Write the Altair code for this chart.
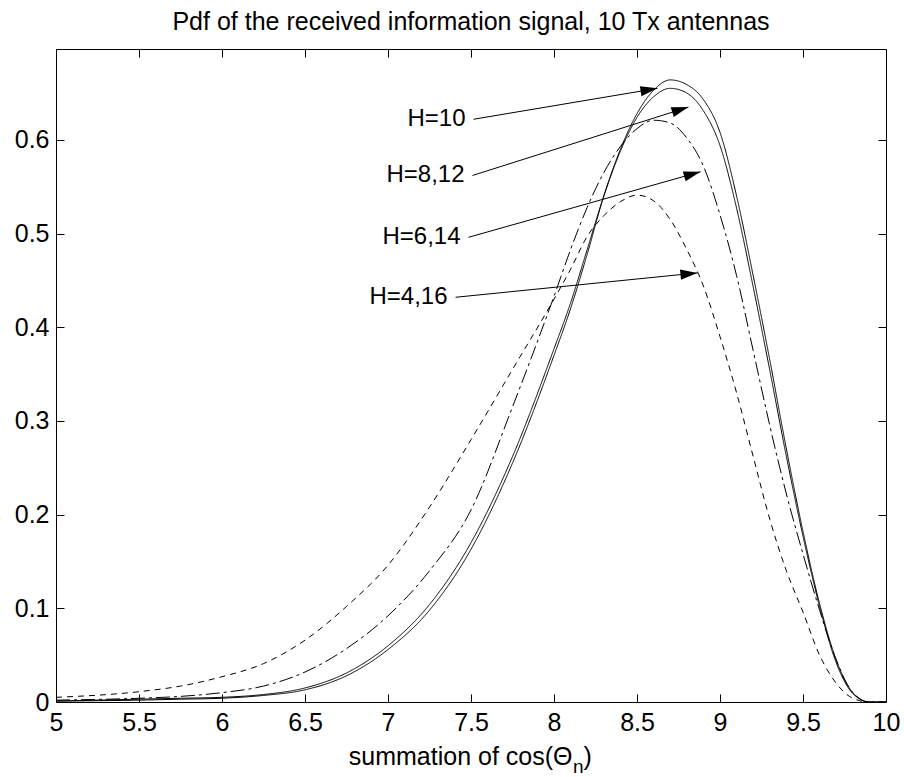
import altair as alt
import pandas as pd
import numpy as np

# ---------------- data ----------------
x_vals = [5.0, 5.5, 5.75, 6.0, 6.25, 6.5, 6.75, 7.0, 7.25, 7.5, 7.75, 8.0,
          8.1, 8.2, 8.3, 8.4, 8.5, 8.6, 8.7, 8.8, 8.9, 9.0, 9.1, 9.2, 9.3,
          9.4, 9.5, 9.6, 9.7, 9.8, 9.9, 10.0]

h10 = [0.001, 0.002, 0.003, 0.004, 0.007, 0.013, 0.028, 0.056, 0.098, 0.163,
       0.255, 0.370, 0.420, 0.478, 0.540, 0.590, 0.628, 0.653, 0.664, 0.659,
       0.643, 0.608, 0.540, 0.455, 0.365, 0.270, 0.182, 0.105, 0.045, 0.010,
       0.0, 0.0]
h8_12 = [0.001, 0.003, 0.004, 0.005, 0.008, 0.015, 0.031, 0.060, 0.104, 0.170,
         0.262, 0.377, 0.426, 0.483, 0.540, 0.588, 0.624, 0.646, 0.655, 0.650,
         0.631, 0.594, 0.527, 0.443, 0.354, 0.262, 0.177, 0.102, 0.042, 0.009,
         0.0, 0.0]
h6_14 = [0.002, 0.004, 0.006, 0.010, 0.017, 0.032, 0.057, 0.092, 0.140, 0.205,
         0.315, 0.433, 0.483, 0.528, 0.565, 0.593, 0.612, 0.621, 0.618, 0.602,
         0.572, 0.520, 0.455, 0.375, 0.295, 0.222, 0.158, 0.098, 0.045, 0.010,
         0.0, 0.0]
h4_16 = [0.005, 0.011, 0.017, 0.027, 0.041, 0.066, 0.102, 0.146, 0.208, 0.280,
         0.355, 0.430, 0.462, 0.497, 0.519, 0.534, 0.541, 0.535, 0.515, 0.483,
         0.444, 0.390, 0.330, 0.262, 0.195, 0.140, 0.096, 0.050, 0.020, 0.004,
         0.0, 0.0]

series_names = ["H=10", "H=8,12", "H=6,14", "H=4,16"]
series_values = [h10, h8_12, h6_14, h4_16]

# annotation labels and arrows (start -> tip), in data units
ann_labels = ["H=10", "H=8,12", "H=6,14", "H=4,16"]
ann_x0 = [7.515, 7.509, 7.485, 7.407]
ann_y0 = [0.622, 0.562, 0.496, 0.432]
ann_x1 = [8.623, 8.810, 8.883, 8.864]
ann_y1 = [0.655, 0.635, 0.566, 0.458]

x_ticks = [5, 5.5, 6, 6.5, 7, 7.5, 8, 8.5, 9, 9.5, 10]
y_ticks = [0, 0.1, 0.2, 0.3, 0.4, 0.5, 0.6]

title_text = "Pdf of the received information signal, 10 Tx antennas"
xlabel_main = ["summation of cos(Θ"]
xlabel_sub = ["n"]
xlabel_end = [")"]

# ---------------- layout ----------------
W, H = 830, 653
XMIN, XMAX = 5.0, 10.0
YMIN, YMAX = 0.0, 0.697
FONT = "Liberation Sans"

rows = []
for name, vals in zip(series_names, series_values):
    for xv, yv in zip(x_vals, vals):
        rows.append({"x": xv, "y": yv, "series": name})
curves = pd.DataFrame(rows)

arrows = pd.DataFrame({
    "label": ann_labels, "x0": ann_x0, "y0": ann_y0, "x1": ann_x1, "y1": ann_y1,
})
dxp = (arrows["x1"] - arrows["x0"]) * W / (XMAX - XMIN)
dyp = -(arrows["y1"] - arrows["y0"]) * H / (YMAX - YMIN)
arrows["angle"] = np.degrees(np.arctan2(dyp, dxp)) % 360

xs = alt.Scale(domain=[XMIN, XMAX], nice=False, zero=False)
ys = alt.Scale(domain=[YMIN, YMAX], nice=False, zero=False)

common_axis = dict(domain=False, tickSize=8, offset=-8, tickColor="black",
                   tickWidth=1, labelColor="black", labelFont=FONT,
                   labelFontSize=25, grid=False, title=None,
                   labelFlush=False, labelOverlap=False)

x_bottom = alt.Axis(orient="bottom", values=x_ticks, format="~g",
                    labelPadding=8, **common_axis)
y_left = alt.Axis(orient="left", values=y_ticks, format="~g",
                  labelPadding=7, **common_axis)
x_top = alt.Axis(orient="top", values=x_ticks, labels=False, **common_axis)
y_right = alt.Axis(orient="right", values=y_ticks, labels=False, **common_axis)

lines = alt.Chart(curves).mark_line(
    interpolate="monotone", strokeWidth=1, color="black"
).encode(
    x=alt.X("x:Q", scale=xs, axis=x_bottom),
    y=alt.Y("y:Q", scale=ys, axis=y_left),
    detail="series:N",
    strokeDash=alt.StrokeDash(
        "series:N",
        scale=alt.Scale(domain=series_names,
                        range=[[1, 0], [1, 0], [14, 4, 3, 4], [6, 5]]),
        legend=None,
    ),
)

shafts = alt.Chart(arrows).mark_rule(color="black", strokeWidth=1).encode(
    x=alt.X("x0:Q", scale=xs, axis=None),
    y=alt.Y("y0:Q", scale=ys, axis=None),
    x2="x1:Q",
    y2="y1:Q",
)

heads = alt.Chart(arrows).mark_point(
    shape="M0,0 L-2,-0.6 L-2,0.6 Z", filled=True, size=289,
    color="black", opacity=1, strokeWidth=0
).encode(
    x=alt.X("x1:Q", scale=xs, axis=x_top),
    y=alt.Y("y1:Q", scale=ys, axis=y_right),
    angle=alt.Angle("angle:Q", scale=None),
)

labels = alt.Chart(arrows).mark_text(
    align="right", baseline="middle", dx=-8, font=FONT, fontSize=24,
    color="black"
).encode(
    x=alt.X("x0:Q", scale=xs, axis=None),
    y=alt.Y("y0:Q", scale=ys, axis=None),
    text="label:N",
)

xl_main = alt.Chart(pd.DataFrame({"t": xlabel_main})).mark_text(
    align="right", baseline="alphabetic", font=FONT, fontSize=25, color="black"
).encode(x=alt.value(516.5), y=alt.value(716), text="t:N")
xl_sub = alt.Chart(pd.DataFrame({"t": xlabel_sub})).mark_text(
    align="left", baseline="alphabetic", font=FONT, fontSize=19, color="black"
).encode(x=alt.value(517), y=alt.value(724), text="t:N")
xl_end = alt.Chart(pd.DataFrame({"t": xlabel_end})).mark_text(
    align="left", baseline="alphabetic", font=FONT, fontSize=25, color="black"
).encode(x=alt.value(527.5), y=alt.value(716), text="t:N")

chart = alt.layer(lines, shafts, heads, labels, xl_main, xl_sub, xl_end).resolve_axis(
    x="independent", y="independent"
).properties(
    width=W, height=H,
    title=alt.TitleParams(title_text, font=FONT, fontSize=25,
                          fontWeight="normal", color="black",
                          anchor="middle", offset=14),
    padding={"left": 56, "top": 49, "right": 18, "bottom": 75},
    autosize=alt.AutoSizeParams(type="none"),
    background="white",
).configure_view(stroke="black", strokeWidth=1)

chart.save("out.html", embed_options={"renderer": "svg", "actions": False})
